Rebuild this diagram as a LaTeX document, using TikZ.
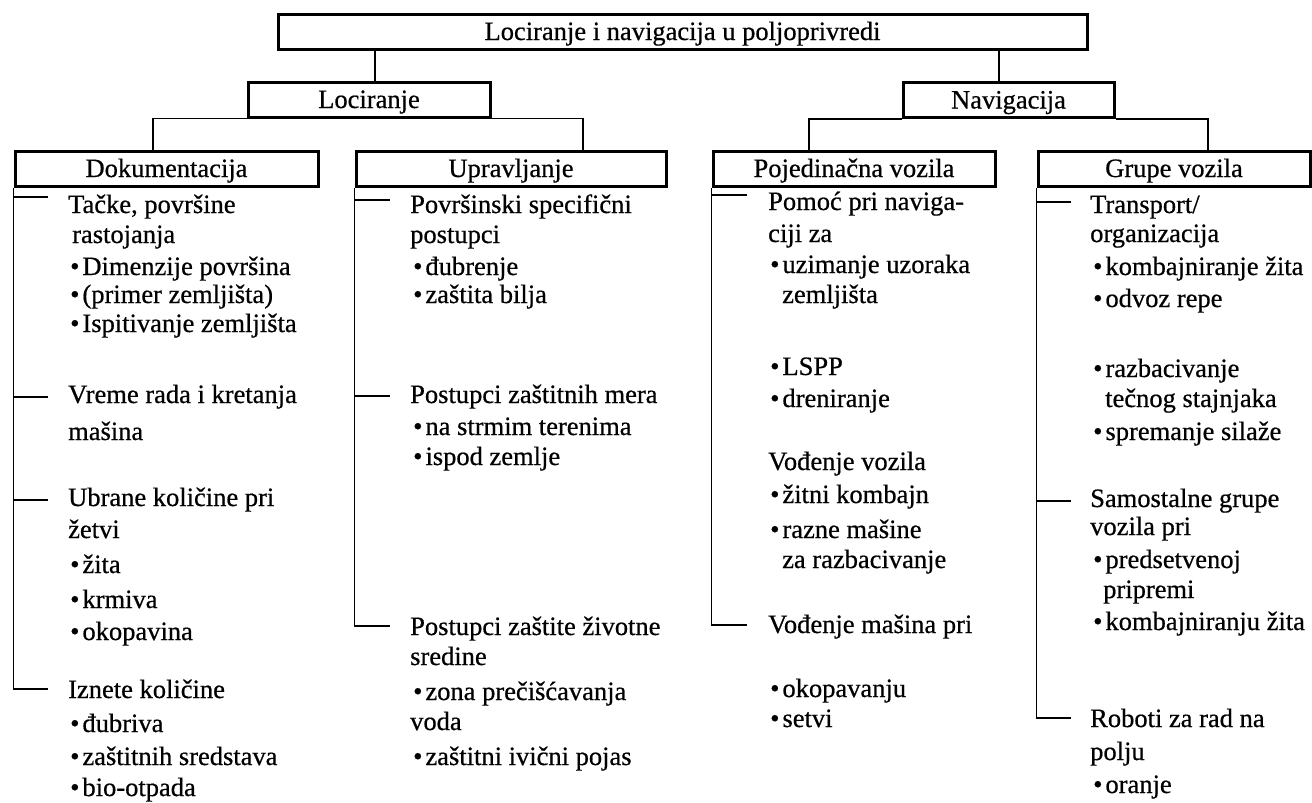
\documentclass[tikz,border=0pt]{standalone}
\usepackage{fontspec}
\setmainfont{Liberation Serif}[FakeBold=0.6]
\newcommand\fs{\fontsize{26.5}{30}\selectfont\addfontfeatures{FakeBold=0.6}}
\newcommand\ptxt[4]{\node[txt] (#1) at (#2,#3) {#4};}
\tikzset{
  box/.style={draw, line width=3pt, inner sep=0pt, text height=17pt, text depth=0pt, minimum height=35pt, font=\fs},
  link/.style={line width=1.5pt},
  txt/.style={anchor=base west, inner sep=0pt, font=\fs},
}
\begin{document}
\begin{tikzpicture}[x=1pt,y=-1pt]
\useasboundingbox (0,0) rectangle (1312,803);
% boxes
\node[box, minimum width=809pt] (top) at (682.5,31.5) {Lociranje i navigacija u poljoprivredi};
\node[box, minimum width=242pt] (loc) at (369,99.5) {Lociranje};
\node[box, minimum width=211pt] (nav) at (1008.5,100) {Navigacija};
\node[box, minimum width=303pt] (dok) at (166.5,168.5) {Dokumentacija};
\node[box, minimum width=310pt] (upr) at (511,168.5) {Upravljanje};
\node[box, minimum width=282pt] (poj) at (854,168.5) {Pojedinačna vozila};
\node[box, minimum width=272pt] (grp) at (1174,168.5) {Grupe vozila};
% tree connectors
\draw[link] ([xshift=6pt]loc.north) -- ([xshift=6pt]loc.north |- top.south);
\draw[link] ([xshift=-9.5pt]nav.north) -- ([xshift=-9.5pt]nav.north |- top.south);
\draw[link] ([xshift=-13.5pt]dok.north) |- (loc.south west);
\draw[link] ([xshift=72pt]upr.north) |- (loc.south east);
\draw[link] ([xshift=-45pt]poj.north) |- (nav.south west);
\draw[link] ([xshift=34pt]grp.north) |- (nav.south east);
% column ticks
\coordinate (ta1) at (48,197);
\coordinate (ta2) at (48,397);
\coordinate (ta3) at (48,500);
\coordinate (ta4) at (48,689);
\draw[link] (dok.south west) |- (ta4);
\foreach \t in {ta1,ta2,ta3} \draw[link] (\t -| dok.west) -- (\t);
\coordinate (tb1) at (390,200);
\coordinate (tb2) at (390,396);
\coordinate (tb3) at (390,626);
\draw[link] (upr.south west) |- (tb3);
\foreach \t in {tb1,tb2} \draw[link] (\t -| upr.west) -- (\t);
\coordinate (tc1) at (747,195);
\coordinate (tc2) at (747,625);
\draw[link] (poj.south west) |- (tc2);
\draw[link] (tc1 -| poj.west) -- (tc1);
\coordinate (td1) at (1071,202);
\coordinate (td2) at (1071,501);
\coordinate (td3) at (1071,718);
\draw[link] (grp.south west) |- (td3);
\foreach \t in {td1,td2} \draw[link] (\t -| grp.west) -- (\t);
% column 1
\ptxt{a1}{68}{213}{Tačke, površine}
\ptxt{a2}{72}{243}{rastojanja}
\ptxt{a3}{70}{275}{•\kern3pt Dimenzije površina}
\ptxt{a4}{70}{303}{•\kern3pt (primer zemljišta)}
\ptxt{a5}{70}{332}{•\kern3pt Ispitivanje zemljišta}
\ptxt{a6}{68}{403}{Vreme rada i kretanja}
\ptxt{a7}{68}{440}{mašina}
\ptxt{a8}{68}{506}{Ubrane količine pri}
\ptxt{a9}{68}{538}{žetvi}
\ptxt{a10}{70}{573}{•\kern3pt žita}
\ptxt{a11}{70}{608}{•\kern3pt krmiva}
\ptxt{a12}{70}{640}{•\kern3pt okopavina}
\ptxt{a13}{68}{698}{Iznete količine}
\ptxt{a14}{70}{732}{•\kern3pt đubriva}
\ptxt{a15}{70}{765}{•\kern3pt zaštitnih sredstava}
\ptxt{a16}{70}{796}{•\kern3pt bio-otpada}
% column 2
\ptxt{b1}{410}{213}{Površinski specifični}
\ptxt{b2}{410}{243}{postupci}
\ptxt{b3}{413}{275}{•\kern3pt đubrenje}
\ptxt{b4}{413}{303}{•\kern3pt zaštita bilja}
\ptxt{b5}{410}{403}{Postupci zaštitnih mera}
\ptxt{b6}{413}{435}{•\kern3pt na strmim terenima}
\ptxt{b7}{413}{465}{•\kern3pt ispod zemlje}
\ptxt{b8}{410}{635}{Postupci zaštite životne}
\ptxt{b9}{410}{665}{sredine}
\ptxt{b10}{413}{700}{•\kern3pt zona prečišćavanja}
\ptxt{b11}{410}{730}{voda}
\ptxt{b12}{413}{765}{•\kern3pt zaštitni ivični pojas}
% column 3
\ptxt{c1}{768}{210}{Pomoć pri naviga-}
\ptxt{c2}{768}{242}{ciji za}
\ptxt{c3}{770}{273}{•\kern3pt uzimanje uzoraka}
\ptxt{c4}{782}{303}{zemljišta}
\ptxt{c5}{770}{375}{•\kern3pt LSPP}
\ptxt{c6}{770}{407}{•\kern3pt dreniranje}
\ptxt{c7}{768}{470}{Vođenje vozila}
\ptxt{c8}{770}{503}{•\kern3pt žitni kombajn}
\ptxt{c9}{770}{538}{•\kern3pt razne mašine}
\ptxt{c10}{782}{568}{za razbacivanje}
\ptxt{c11}{768}{633}{Vođenje mašina pri}
\ptxt{c12}{770}{697}{•\kern3pt okopavanju}
\ptxt{c13}{770}{727}{•\kern3pt setvi}
% column 4
\ptxt{d1}{1090}{213}{Transport/}
\ptxt{d2}{1090}{242}{organizacija}
\ptxt{d3}{1093}{275}{•\kern3pt kombajniranje žita}
\ptxt{d4}{1093}{307}{•\kern3pt odvoz repe}
\ptxt{d5}{1093}{377}{•\kern3pt razbacivanje}
\ptxt{d6}{1105}{407}{tečnog stajnjaka}
\ptxt{d7}{1093}{440}{•\kern3pt spremanje silaže}
\ptxt{d8}{1090}{507}{Samostalne grupe}
\ptxt{d9}{1090}{535}{vozila pri}
\ptxt{d10}{1093}{568}{•\kern3pt predsetvenoj}
\ptxt{d11}{1103}{598}{pripremi}
\ptxt{d12}{1093}{630}{•\kern3pt kombajniranju žita}
\ptxt{d13}{1090}{727}{Roboti za rad na}
\ptxt{d14}{1090}{760}{polju}
\ptxt{d15}{1093}{793}{•\kern3pt oranje}
\end{tikzpicture}
\end{document}
